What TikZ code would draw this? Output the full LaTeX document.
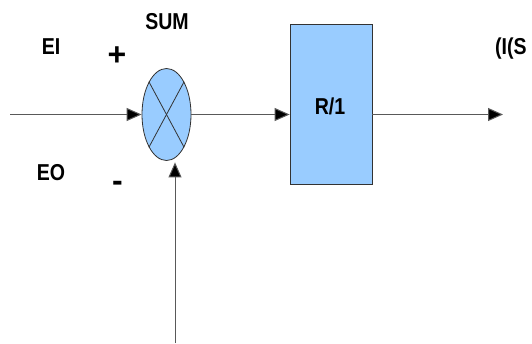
\documentclass[tikz,border=0pt]{standalone}
\usepackage{fontspec}
\setmainfont{Liberation Sans}
\usetikzlibrary{arrows.meta,shapes.geometric}
\definecolor{boxblue}{HTML}{99CCFF}
\newcommand\narrowtxt[1]{\scalebox{0.85}[1]{#1}}
\begin{document}
\begin{tikzpicture}[x=1pt,y=-1pt,
  lbl/.style={font=\fontsize{23}{25}\selectfont\bfseries, inner sep=0pt},
  sign/.style={font=\fontsize{32}{34}\selectfont\bfseries, inner sep=0pt},
  conn/.style={draw=black!65, line width=1pt, -{Triangle[length=15pt,width=13pt,fill=black]}},
  blk/.style={draw=black!80, line width=0.8pt, fill=boxblue, inner sep=0pt}]
\useasboundingbox (0,0) rectangle (532,343);
\node[blk, ellipse, minimum width=49pt, minimum height=92pt] (sum) at (166.5,114.5) {};
\draw[black!80, line width=0.8pt] (sum.north west) -- (sum.south east);
\draw[black!80, line width=0.8pt] (sum.north east) -- (sum.south west);
\node[blk, rectangle, minimum width=82pt, minimum height=160pt] (R) at (331,104) {};
\node[lbl] (rl) at (330,106) {\narrowtxt{R/1}};
\coordinate (in) at (10,114.5);
\coordinate (out) at (503,114.5);
\coordinate (bot) at (175,343);
\draw[conn] (in) -- (sum.west);
\draw[conn] (sum.east) -- (sum.east -| R.west);
\draw[conn] (R.east |- out) -- (out);
\draw[conn, shorten >=1.5pt] (bot) -- (bot |- sum.south);
\node[lbl] (sumlbl) at (167,22) {\narrowtxt{SUM}};
\node[lbl] (ei) at (51,47) {\narrowtxt{EI}};
\node[lbl] (eo) at (51,173) {\narrowtxt{EO}};
\node[sign] (plus) at (117,56) {+};
\node[sign] (minus) at (117.5,186) {-};
\node[lbl, anchor=west] (is) at (495,49) {\narrowtxt{(I(S}};
\end{tikzpicture}
\end{document}
